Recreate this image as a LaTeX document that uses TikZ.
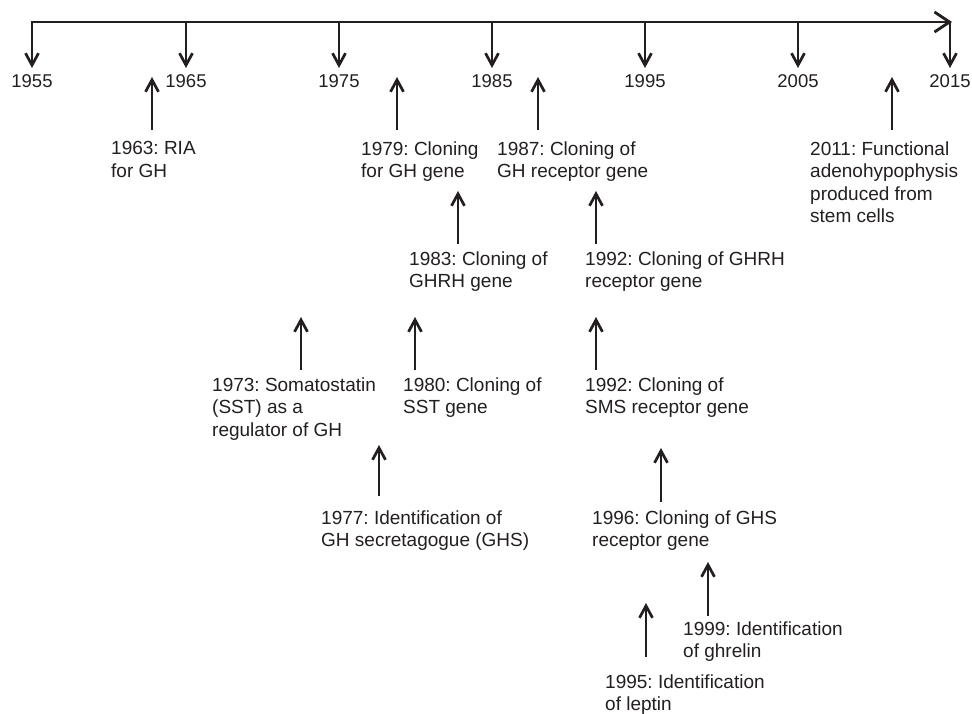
\documentclass[tikz,border=0pt]{standalone}
\usepackage{fontspec}
\setmainfont{Liberation Sans}
\usetikzlibrary{arrows.meta}
\definecolor{ink}{HTML}{231F20}
\frenchspacing
\begin{document}
\begin{tikzpicture}[x=1pt,y=-1pt,
  axisline/.style={line width=2.8pt,draw=ink,-{Straight Barb[length=15pt,width=20pt,line width=2.8pt]}},
  tickarr/.style={line width=2.7pt,draw=ink,-{Straight Barb[length=12pt,width=13pt,line width=2.7pt]}},
  uparr/.style={line width=2.7pt,draw=ink,-{Straight Barb[length=12pt,width=13pt,line width=2.7pt]}},
  year/.style={inner sep=0pt,text=ink,font=\fontsize{18.5}{22.5}\selectfont,anchor=center},
  ev/.style={inner sep=0pt,text=ink,align=left,anchor=north west,font=\fontsize{19}{22.5}\selectfont}]
\useasboundingbox (0,0) rectangle (972,714);
% axis
\coordinate (ax0) at (32,22);
\coordinate (ax1) at (952,22);
\draw[axisline] (ax0) -- (ax1);
% ticks and years
\foreach \yr/\xx in {1955/32,1965/186,1975/339,1985/492,1995/645,2005/798,2015/950}{
  \coordinate (t\yr) at (\xx,21);
  \coordinate (tb\yr) at (\xx,68);
  \draw[tickarr] (t\yr) -- (tb\yr);
  \node[year] (y\yr) at (\xx,81) {\yr};
}
% events
\node[ev] (e63) at (111,141.2) {1963: RIA\\for GH};
\node[ev] (e79) at (361,141.2) {1979: Cloning\\for GH gene};
\node[ev] (e87) at (497,141.2) {1987: Cloning of\\GH receptor gene};
\node[ev] (e11) at (810,141.2) {2011: Functional\\adenohypophysis\\produced from\\stem cells};
\node[ev] (e83) at (409,251.2) {1983: Cloning of\\GHRH gene};
\node[ev] (e92g) at (585,251.2) {1992: Cloning of GHRH\\receptor gene};
\node[ev] (e73) at (212,377.2) {1973: Somatostatin\\(SST) as a\\regulator of GH};
\node[ev] (e80) at (403,377.2) {1980: Cloning of\\SST gene};
\node[ev] (e92s) at (585,377.2) {1992: Cloning of\\SMS receptor gene};
\node[ev] (e77) at (321,510.2) {1977: Identification of\\GH secretagogue (GHS)};
\node[ev] (e96) at (592,510.2) {1996: Cloning of GHS\\receptor gene};
\node[ev] (e99) at (683,621.2) {1999: Identification\\of ghrelin};
\node[ev] (e95) at (605,674.2) {1995: Identification\\of leptin};
% event arrows
\foreach \n/\xx/\yt/\yb in {63/152/77/130,79/397/77/130,87/538/77/130,11/892/77/130,
  83/458/191/244,92g/596/191/244,73/301/317/370,80/415/317/370,92s/596/317/370,
  77/379/445/496,96/661/448/502,99/708/562/616,95/646/603/657}{
  \coordinate (ab\n) at (\xx,\yb);
  \coordinate (at\n) at (\xx,\yt);
  \draw[uparr] (ab\n) -- (at\n);
}
\end{tikzpicture}
\end{document}
